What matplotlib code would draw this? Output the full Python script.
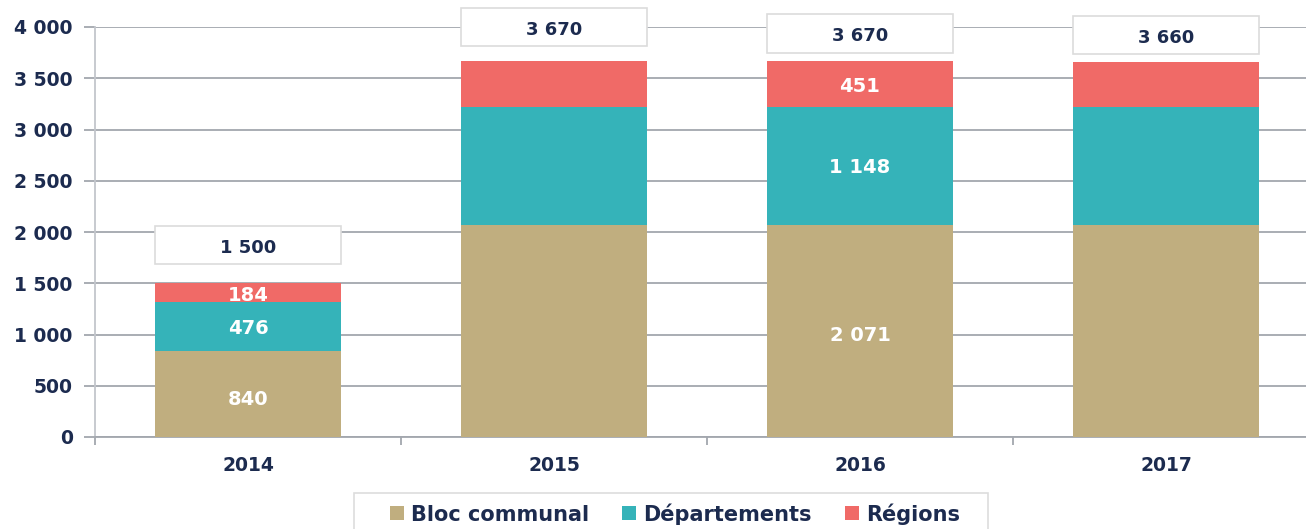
import matplotlib.pyplot as plt
from matplotlib.patches import Rectangle
import numpy as np

years = ['2014', '2015', '2016', '2017']
bloc = [840, 2071, 2071, 2071]
dep = [476, 1148, 1148, 1148]
reg = [184, 451, 451, 441]
totals = ['1 500', '3 670', '3 670', '3 660']
# which years show inner labels
show_inner = [True, False, True, False]
box_center = [1873, 4000, 3941, 3922]

plt.rcParams['font.family'] = ['DejaVu Sans']
navy = '#1c2b4f'
grid_c = '#a3a7ae'
c_bloc, c_dep, c_reg = '#c0ae7f', '#35b3b9', '#f06a67'

def fmt(v):
    return '{:,}'.format(v).replace(',', ' ')

W, H = 1306, 529
fig = plt.figure(figsize=(W / 100, H / 100), dpi=100)
ax = fig.add_axes([95 / W, 1 - 437 / H, (1319 - 95) / W, (437 - 27) / H])

x = np.arange(len(years))
bw = 0.61
ax.bar(x, bloc, bw, color=c_bloc, label='Bloc communal', zorder=3)
ax.bar(x, dep, bw, bottom=bloc, color=c_dep, label='Départements', zorder=3)
ax.bar(x, reg, bw, bottom=np.add(bloc, dep), color=c_reg, label='Régions', zorder=3)

for i in range(len(years)):
    if show_inner[i]:
        ax.text(x[i], bloc[i] / 2 - 50, fmt(bloc[i]), ha='center', va='center',
                color='white', fontsize=14, fontweight='bold', zorder=4)
        ax.text(x[i], bloc[i] + dep[i] / 2 - 20, fmt(dep[i]), ha='center', va='center',
                color='white', fontsize=14, fontweight='bold', zorder=4)
        ax.text(x[i], bloc[i] + dep[i] + reg[i] / 2 - 25, fmt(reg[i]), ha='center', va='center',
                color='white', fontsize=14, fontweight='bold', zorder=4)
    ax.add_patch(Rectangle((x[i] - bw / 2, box_center[i] - 190), bw, 380,
                           facecolor='white', edgecolor='#dcdcdc', lw=1.2,
                           zorder=5, clip_on=False))
    ax.text(x[i], box_center[i] - 25, totals[i], ha='center', va='center',
            color=navy, fontsize=13, fontweight='bold', zorder=6, clip_on=False)

ax.set_xlim(-0.5, 3.5)
ax.set_ylim(0, 4000)
ax.set_yticks(np.arange(0, 4001, 500))
ax.set_yticklabels([fmt(v) for v in range(0, 4001, 500)])
ax.yaxis.grid(True, color=grid_c, lw=1.3, zorder=0)
ax.tick_params(axis='y', length=8, color=grid_c, width=1.3, pad=8,
               labelsize=13.5, labelcolor=navy)
for lab in ax.get_yticklabels():
    lab.set_fontweight('bold')

ax.set_xticks(x)
ax.set_xticklabels(years, fontweight='bold')
ax.tick_params(axis='x', length=0, pad=14, labelsize=13.5, labelcolor=navy)
ax.set_xticks(np.arange(-0.5, 3.6, 1), minor=True)
ax.tick_params(axis='x', which='minor', length=6, color=grid_c, width=1.3)

for s in ['top', 'right']:
    ax.spines[s].set_visible(False)
ax.spines['left'].set_color('#c3c6cc')
ax.spines['left'].set_linewidth(1.3)
ax.spines['bottom'].set_color(grid_c)
ax.spines['bottom'].set_linewidth(1.3)

# legend frame drawn separately (wide side padding)
fig.patches.append(Rectangle((354 / W, -0.05), (988 - 354) / W, 0.05 + 1 - 493 / H,
                             transform=fig.transFigure, facecolor='white',
                             edgecolor='#dddddd', lw=1.2, zorder=0))
leg = fig.legend(loc='center', bbox_to_anchor=(675 / W, 1 - 514 / H), ncol=3,
                 frameon=False, prop={'weight': 'bold', 'size': 15},
                 handlelength=0.65, handleheight=0.65, handletextpad=0.35,
                 columnspacing=1.6, borderpad=0, borderaxespad=0)
for t in leg.get_texts():
    t.set_color(navy)

fig.savefig('out.png', dpi=100)
